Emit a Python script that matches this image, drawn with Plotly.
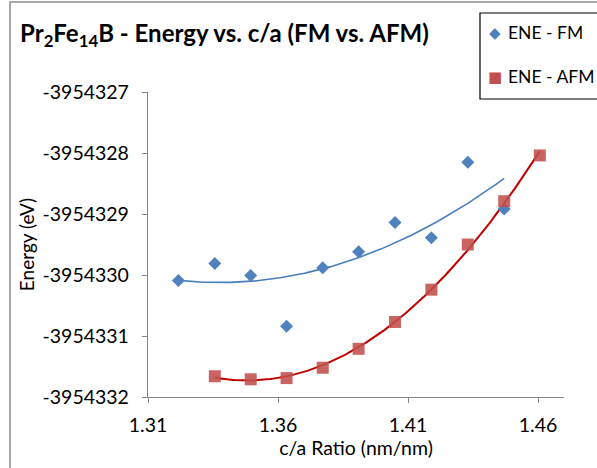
import numpy as np
import plotly.graph_objects as go

# c/a ratio (nm/nm) and total energy (eV) for the two magnetic orderings
ca_fm = [1.3217, 1.3357, 1.3495, 1.3633, 1.3772, 1.3910, 1.4050, 1.4190, 1.4330, 1.4470]
ene_fm = [-3954330.09, -3954329.81, -3954330.01, -3954330.84, -3954329.88,
          -3954329.62, -3954329.14, -3954329.39, -3954328.15, -3954328.92]

ca_afm = [1.3357, 1.3495, 1.3633, 1.3772, 1.3910, 1.4050, 1.4190, 1.4330, 1.4470, 1.4607]
ene_afm = [-3954331.66, -3954331.71, -3954331.69, -3954331.52, -3954331.21,
           -3954330.77, -3954330.24, -3954329.50, -3954328.79, -3954328.04]

x_ticks = [1.31, 1.36, 1.41, 1.46]
x_tick_text = ["1.31", "1.36", "1.41", "1.46"]
y_ticks = [-3954332, -3954331, -3954330, -3954329, -3954328, -3954327]
y_tick_text = ["-3954332", "-3954331", "-3954330", "-3954329", "-3954328", "-3954327"]

FONT = "Lato, 'Liberation Sans', sans-serif"
BLUE = "#4F81BD"
BLUE_LINE = "#4A7EBB"
RED = "#C0504D"
RED_LINE = "#C00000"

W, H = 597, 468
L, R, T, B = 148, 564, 92, 397


def px(x):
    return (x - L) / (R - L)


def py(y):
    return (B - y) / (B - T)


def poly_trend(xs, ys, deg=2, n=200):
    """Least-squares polynomial trendline over the data's x span."""
    xs = np.asarray(xs)
    ys = np.asarray(ys)
    x0, y0 = xs.mean(), ys.mean()
    coef = np.polyfit(xs - x0, ys - y0, deg)
    xx = np.linspace(xs.min(), xs.max(), n)
    return xx, np.polyval(coef, xx - x0) + y0


fig = go.Figure()

tx, ty = poly_trend(ca_fm, ene_fm, 2)
fig.add_trace(go.Scatter(x=tx, y=ty, mode="lines",
                         line=dict(color=BLUE_LINE, width=1.6),
                         hoverinfo="skip", showlegend=False))
tx, ty = poly_trend(ca_afm, ene_afm, 2)
fig.add_trace(go.Scatter(x=tx, y=ty, mode="lines",
                         line=dict(color=RED_LINE, width=2),
                         hoverinfo="skip", showlegend=False))

fig.add_trace(go.Scatter(x=ca_fm, y=ene_fm, mode="markers", name="ENE - FM",
                         marker=dict(symbol="diamond", size=10, color=BLUE),
                         showlegend=False))
fig.add_trace(go.Scatter(x=ca_afm, y=ene_afm, mode="markers", name="ENE - AFM",
                         marker=dict(symbol="square", size=12, color=RED, opacity=0.88),
                         showlegend=False))

axis_grey = "#868686"
fig.update_xaxes(range=[1.31, 1.47], tickvals=x_ticks, ticktext=x_tick_text,
                 showgrid=False, zeroline=False, showline=True,
                 linecolor=axis_grey, linewidth=1.3,
                 ticks="outside", ticklen=5, tickcolor=axis_grey,
                 ticklabelstandoff=5,
                 tickfont=dict(family=FONT, size=19.5, color="black"),
                 title=dict(text="c/a Ratio (nm/nm)", standoff=6,
                            font=dict(family=FONT, size=19.5, color="black")))
fig.update_yaxes(range=[-3954332, -3954327], tickvals=y_ticks, ticktext=y_tick_text,
                 showgrid=False, zeroline=False, showline=True,
                 linecolor=axis_grey, linewidth=1.3,
                 ticks="outside", ticklen=5, tickcolor=axis_grey,
                 ticklabelstandoff=9,
                 tickfont=dict(family=FONT, size=19.5, color="black"),
                 title=dict(text="Energy (eV)", standoff=2,
                            font=dict(family=FONT, size=19, color="black")))

shapes = [
    # chart-area border
    dict(type="rect", xref="paper", yref="paper",
         x0=px(10), x1=px(W + 20), y0=py(H + 20), y1=py(2),
         line=dict(color="#8C8C8C", width=1.5), fillcolor="rgba(0,0,0,0)", layer="below"),
    # legend box
    dict(type="rect", xref="paper", yref="paper",
         x0=px(480), x1=px(W + 20), y0=py(99), y1=py(13),
         line=dict(color="black", width=1.2), fillcolor="white", layer="above"),
]

annotations = [
    dict(text="◆", x=px(495), y=py(33), xref="paper", yref="paper",
         showarrow=False, xanchor="center", yanchor="middle",
         font=dict(family="DejaVu Sans", size=15, color=BLUE)),
    dict(text="ENE - FM", x=px(506), y=py(33), xref="paper", yref="paper",
         showarrow=False, xanchor="left", yanchor="middle",
         font=dict(family=FONT, size=17.5, color="black")),
    dict(text="■", x=px(495), y=py(77), xref="paper", yref="paper",
         showarrow=False, xanchor="center", yanchor="middle",
         font=dict(family="DejaVu Sans", size=15, color=RED)),
    dict(text="ENE - AFM", x=px(506), y=py(77), xref="paper", yref="paper",
         showarrow=False, xanchor="left", yanchor="middle",
         font=dict(family=FONT, size=17.5, color="black")),
]

fig.update_layout(
    width=W, height=H,
    margin=dict(l=L, r=W - R, t=T, b=H - B, autoexpand=False),
    paper_bgcolor="white", plot_bgcolor="white",
    title=dict(text="Pr<sub>2</sub>Fe<sub>14</sub>B - Energy vs. c/a (FM vs. AFM)",
               xref="container", yref="container", x=20 / W, xanchor="left",
               y=1 - 34 / H, yanchor="middle",
               font=dict(family=FONT, size=24, color="black", weight="bold")),
    shapes=shapes, annotations=annotations,
    showlegend=False,
)

fig.write_html("out.html")
